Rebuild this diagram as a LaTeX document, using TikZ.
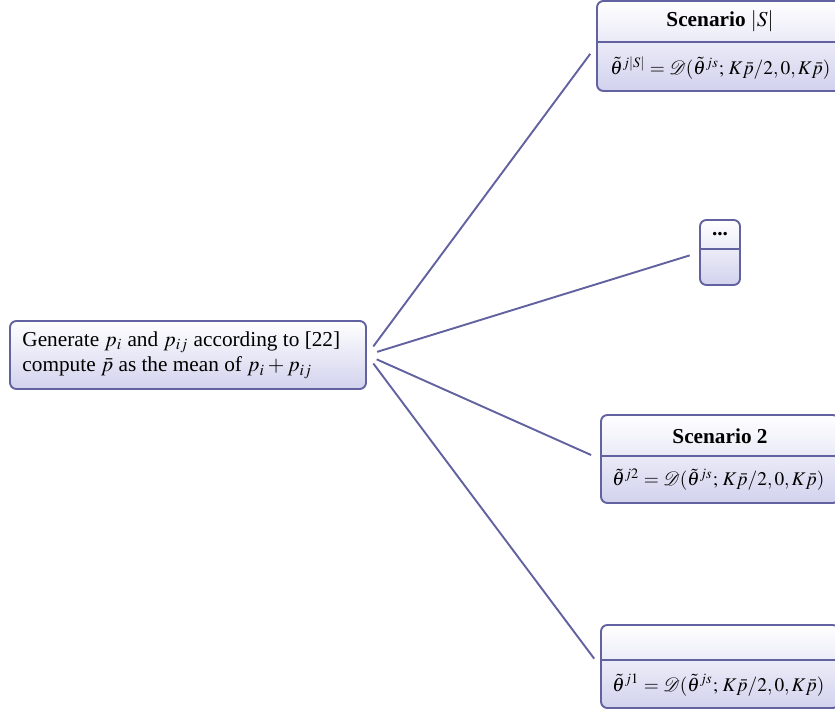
\documentclass[tikz,border=0pt]{standalone}
\usepackage{mathptmx}
\usepackage[no-math]{fontspec}
\setmainfont{Liberation Serif}
\usetikzlibrary{calc}
\definecolor{bord}{RGB}{98,98,160}
\definecolor{lav}{RGB}{210,210,238}
\tikzset{
  box/.style={draw=bord, line width=0.9pt, rounded corners=3pt, top color=white, bottom color=lav, inner sep=0pt},
  divider/.style={draw=bord, line width=0.9pt},
  conn/.style={draw=bord, line width=0.9pt, shorten <=5pt, shorten >=4.6pt},
  ttl/.style={font=\bfseries, inner sep=0pt, anchor=center},
  txt/.style={inner sep=0pt, anchor=west, align=left},
  frm/.style={txt, font=\fontsize{9.1pt}{11pt}\selectfont}
}
\begin{document}
\begin{tikzpicture}[x=0.47pt,y=-0.47pt]
\useasboundingbox (0,0) rectangle (835,710);
\clip (0,0) rectangle (835,710);
% left box
\node[box, minimum width=356*0.47pt, minimum height=68*0.47pt] (L) at (188,355) {};
\node[txt] (Lt) at (22,355) {Generate $p_i$ and $p_{ij}$ according to [22]\\compute $\bar p$ as the mean of $p_i + p_{ij}$};
% scenario |S|
\node[box, minimum width=246*0.47pt, minimum height=90*0.47pt] (S) at (720,46) {};
\draw[divider] (S.west |- 0,42) -- (S.east |- 0,42);
\node[ttl] (St) at (720,21) {Scenario $|S|$};
\node[frm] (Sm) at (610,68) {$\tilde\theta^{j|S|} = \mathcal{D}(\tilde\theta^{js};\, K\bar p/2, 0, K\bar p)$};
% dots
\node[box, minimum width=40*0.47pt, minimum height=65*0.47pt] (D) at (720,252.5) {};
\draw[divider] (D.west |- 0,249) -- (D.east |- 0,249);
\node[ttl] (Dt) at (720,234) {...};
% scenario 2
\node[box, minimum width=238*0.47pt, minimum height=88*0.47pt] (S2) at (720,459) {};
\draw[divider] (S2.west |- 0,456) -- (S2.east |- 0,456);
\node[ttl] (S2t) at (720,436) {Scenario 2};
\node[frm] (S2m) at (612,480) {$\tilde\theta^{j2} = \mathcal{D}(\tilde\theta^{js};\, K\bar p/2, 0, K\bar p)$};
% scenario 1
\node[box, minimum width=238*0.47pt, minimum height=83*0.47pt] (S1) at (720,666.5) {};
\draw[divider] (S1.west |- 0,660) -- (S1.east |- 0,660);
\node[frm] (S1m) at (612,685) {$\tilde\theta^{j1} = \mathcal{D}(\tilde\theta^{js};\, K\bar p/2, 0, K\bar p)$};
% connectors
\draw[conn] (L.east) -- (S.west);
\draw[conn] (L.east) -- (D.west);
\draw[conn] (L.east) -- (S2.west);
\draw[conn] (L.east) -- (S1.west);
\end{tikzpicture}
\end{document}
